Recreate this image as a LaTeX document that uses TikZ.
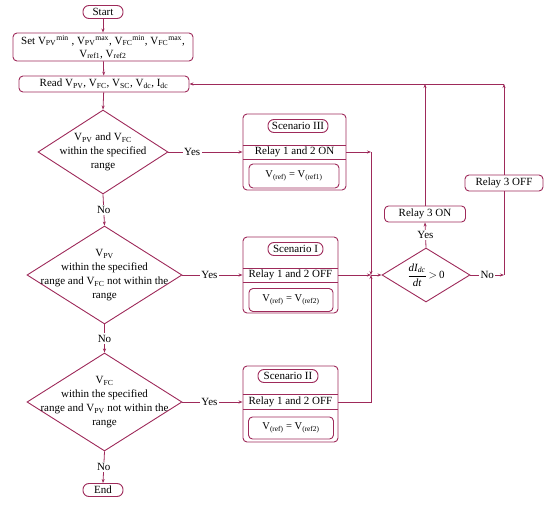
\documentclass[tikz,border=0pt]{standalone}
\usepackage{fontspec}
\setmainfont{Liberation Serif}
\usetikzlibrary{shapes.geometric,arrows.meta}
\definecolor{fc}{RGB}{158,42,90}
\begin{document}
\begin{tikzpicture}[x=1pt,y=-1pt,
  every node/.style={font=\fontsize{11}{14}\selectfont, text=black, inner sep=0pt},
  box/.style={draw=fc, line width=0.9pt, rounded corners=4pt},
  pill/.style={draw=fc, line width=0.9pt, rounded corners=6pt, minimum height=13pt},
  dia/.style={draw=fc, line width=0.9pt, diamond},
  ln/.style={draw=fc, line width=0.8pt},
  arr/.style={ln, -{Stealth[length=4pt,width=3pt]}},
  lab/.style={fill=white, inner sep=1.5pt},
  txt/.style={align=center}
]
\useasboundingbox (0,0) rectangle (550,506);

% left column
\node[pill, minimum width=40pt] (start) at (103,12) {Start};
\node[box, minimum width=180pt, minimum height=28pt, align=center] (set) at (103,47)
  {Set V\textsubscript{PV}\textsuperscript{min} , V\textsubscript{PV}\textsuperscript{max}, V\textsubscript{FC}\textsuperscript{min}, V\textsubscript{FC}\textsuperscript{max},\\[-1pt] V\textsubscript{ref1}, V\textsubscript{ref2}};
\node[box, minimum width=170pt, minimum height=16pt] (read) at (104,84)
  {Read V\textsubscript{PV}, V\textsubscript{FC}, V\textsubscript{SC}, V\textsubscript{dc}, I\textsubscript{dc}};

\node[dia, minimum width=130pt, minimum height=84pt] (d1) at (103,152) {};
\node[txt] (t1) at (d1.center) {V\textsubscript{PV} and V\textsubscript{FC}\\ within the specified\\ range};

\node[dia, minimum width=155pt, minimum height=98pt] (d2) at (104.5,275) {};
\node[txt] (t2) at (d2.center) {V\textsubscript{PV}\\ within the specified\\ range and V\textsubscript{FC} not within the\\ range};

\node[dia, minimum width=155pt, minimum height=98pt] (d4) at (104.5,402) {};
\node[txt] (t4) at (d4.center) {V\textsubscript{FC}\\ within the specified\\ range and V\textsubscript{PV} not within the\\ range};

\node[pill, minimum width=40pt] (end) at (103,490) {End};

% Scenario III
\node[box, minimum width=103pt, minimum height=76pt] (s3) at (294.5,152) {};
\draw[ln] (s3.west |- 0,145) -- (s3.east |- 0,145);
\draw[ln] (s3.west |- 0,159) -- (s3.east |- 0,159);
\node[pill, minimum width=60pt] (p3) at (298,126) {Scenario III};
\node (r3) at (294.5,152) {Relay 1 and 2 ON};
\node[box, minimum width=90pt, minimum height=24pt, font=\fontsize{10.5}{12}\selectfont] (i3) at (294,176) {V\textsubscript{(ref)} = V\textsubscript{(ref1)}};

% Scenario I
\node[box, minimum width=95pt, minimum height=76pt] (s1) at (290.5,275) {};
\draw[ln] (s1.west |- 0,268) -- (s1.east |- 0,268);
\draw[ln] (s1.west |- 0,282) -- (s1.east |- 0,282);
\node[pill, minimum width=55pt] (p1) at (295.5,249) {Scenario I};
\node (r1) at (290.5,275) {Relay 1 and 2 OFF};
\node[box, minimum width=84pt, minimum height=23pt, font=\fontsize{10.5}{12}\selectfont] (i1) at (291,300) {V\textsubscript{(ref)} = V\textsubscript{(ref2)}};

% Scenario II
\node[box, minimum width=95pt, minimum height=76pt] (s2) at (290.5,404) {};
\draw[ln] (s2.west |- 0,394.5) -- (s2.east |- 0,394.5);
\draw[ln] (s2.west |- 0,409.5) -- (s2.east |- 0,409.5);
\node[pill, minimum width=60pt] (p2) at (288,376) {Scenario II};
\node (r2) at (290.5,402) {Relay 1 and 2 OFF};
\node[box, minimum width=85pt, minimum height=22pt, font=\fontsize{10.5}{12}\selectfont] (i2) at (291,428) {V\textsubscript{(ref)} = V\textsubscript{(ref2)}};

% right part
\node[dia, minimum width=88pt, minimum height=54pt] (d3) at (426,275) {};
\node (t3) at (d3.center) {$\displaystyle\frac{\mbox{\itshape dI\textsubscript{dc}}}{\mbox{\itshape dt}}$\,$>$\,0};
\node[box, minimum width=81pt, minimum height=16pt] (on3) at (425,214) {Relay 3 ON};
\node[box, minimum width=78pt, minimum height=16pt] (off3) at (504,183) {Relay 3 OFF};

\coordinate (c3) at (371,152);
\coordinate (J) at (371,275);
\coordinate (c2) at (371,402);
\coordinate (c4) at (425,84);
\coordinate (c5) at (504,275);
\coordinate (c6) at (504,84);

% left flow
\draw[arr] (start) -- (set);
\draw[arr] (set) -- (read);
\draw[arr] (read) -- (d1.north);
\draw[arr] (d1.south) -- node[lab]{No} (d2.north);
\draw[arr] (d2.south) -- node[lab]{No} (d4.north);
\draw[arr] (d4.south) -- node[lab]{No} (end.north);

\draw[arr] (d1.east) -- node[lab, pos=0.32]{Yes} (s3.west |- d1.east);
\draw[arr] (d2.east) -- node[lab, pos=0.45]{Yes} (s1.west |- d2.east);
\draw[arr] (d4.east) -- node[lab, pos=0.45]{Yes} (s2.west |- d4.east);

% merge
\draw[arr] (s3.east |- r3) -- (c3);
\draw[arr] (c3) -- (J);
\draw[arr] (s1.east |- r1) -- (J);
\draw[arr] (s2.east |- r2) -- (c2) -- (J);
\draw[arr] (J) -- (d3.west);

% decision
\draw[arr] (d3.north) -- node[lab]{Yes} (on3.south);
\draw[arr] (on3.north) -- (c4);
\draw[arr] (d3.east) -- node[lab, pos=0.5]{No} (c5);
\draw[ln] (c5) -- (off3.south);
\draw[arr] (off3.north) -- (c6);
\draw[arr] (c6) -- (read.east);
\end{tikzpicture}
\end{document}
